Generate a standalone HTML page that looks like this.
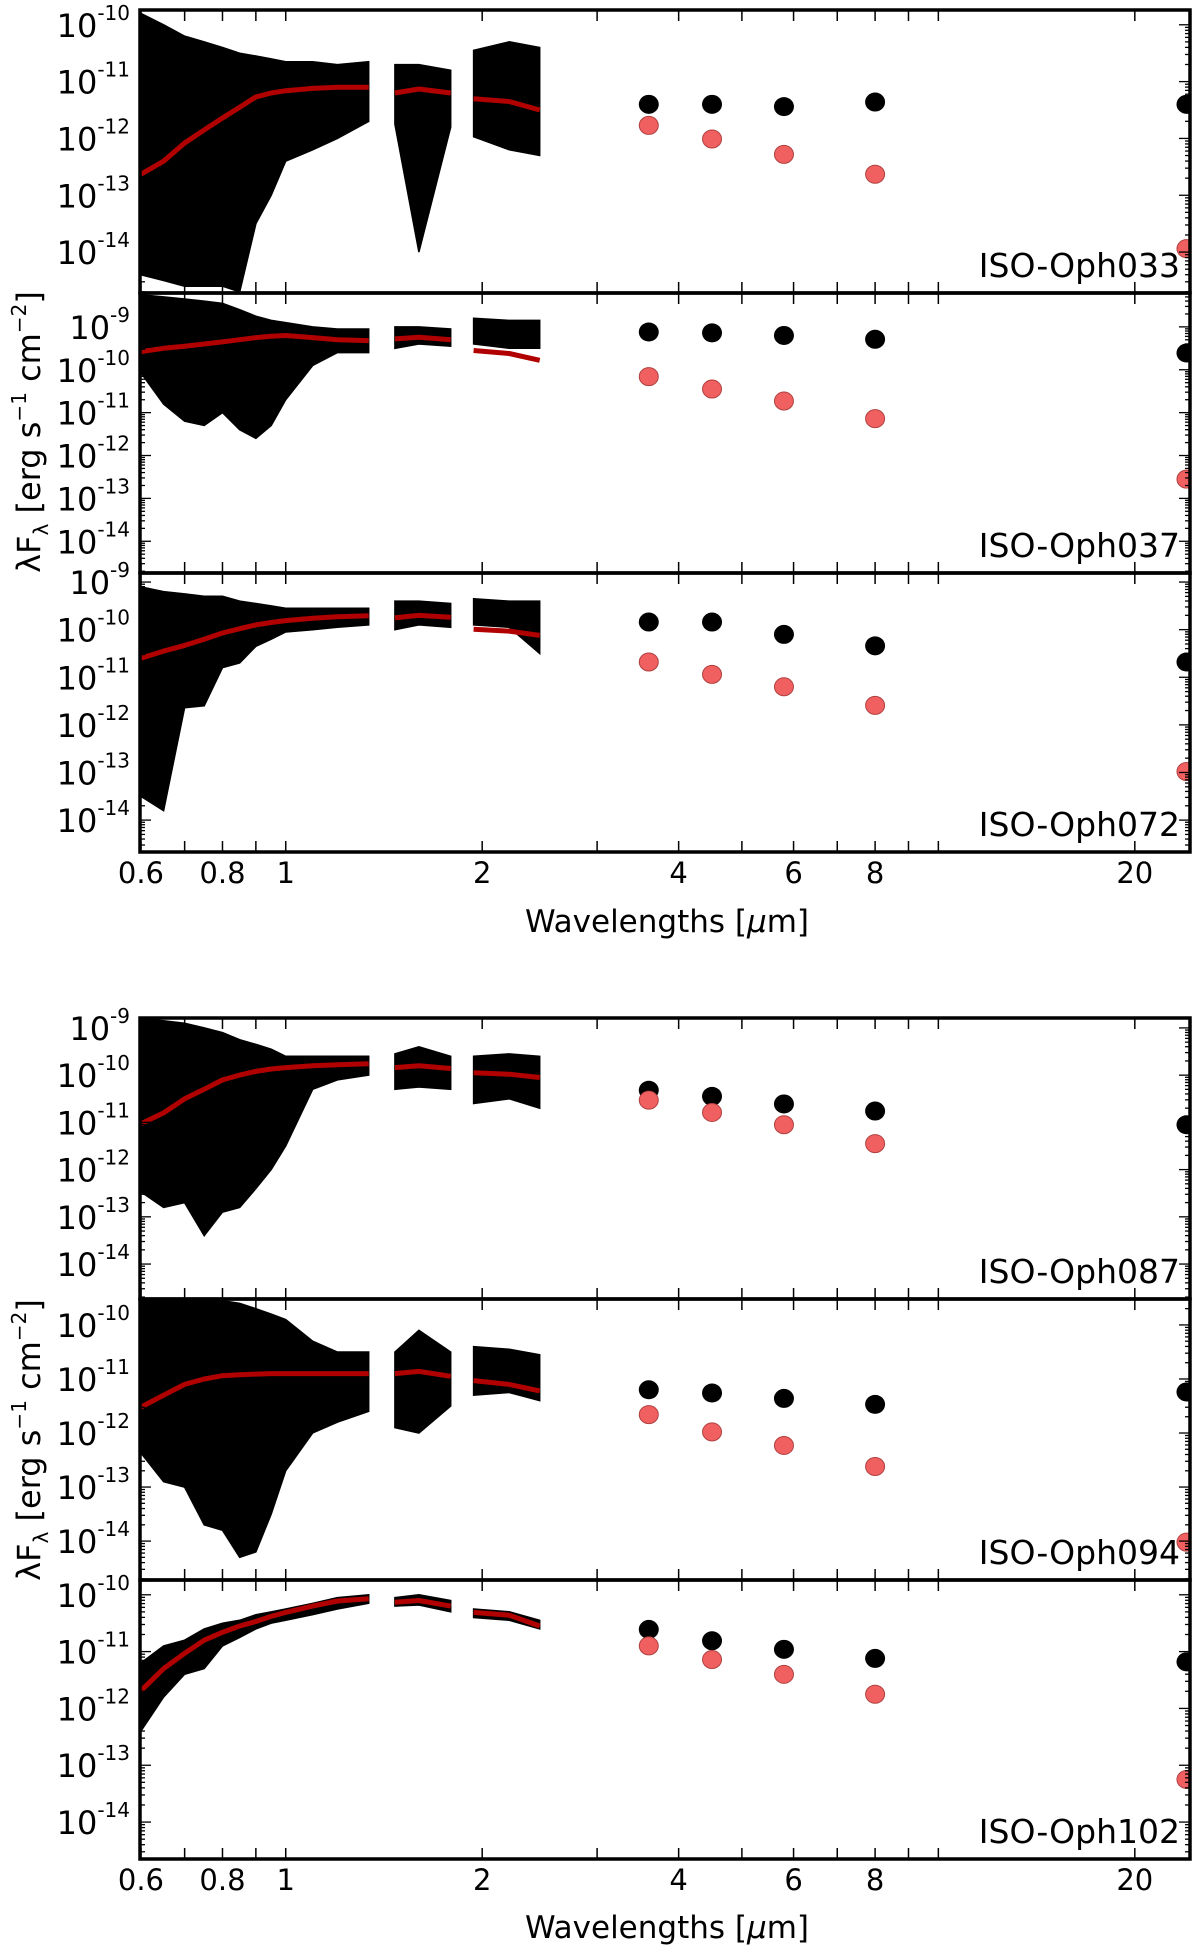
<!DOCTYPE html>
<html><head><meta charset="utf-8"><style>
body{margin:0;background:#fff}
svg{display:block}
text{font-family:"DejaVu Sans","Liberation Sans",sans-serif;fill:#000}
</style></head><body>
<svg id="fig" width="1200" height="1946" viewBox="0 0 1200 1946" xmlns="http://www.w3.org/2000/svg"></svg>
<script>
// ---- data ----
const panelNames = ["ISO-Oph033","ISO-Oph037","ISO-Oph072","ISO-Oph087","ISO-Oph094","ISO-Oph102"];
const photX = [3.6, 4.5, 5.8, 8.0, 24];
const photObs = [
 [-11.40,-11.40,-11.44,-11.36,-11.40],
 [-9.12,-9.14,-9.20,-9.29,-9.61],
 [-9.84,-9.84,-10.10,-10.34,-10.68],
 [-10.32,-10.45,-10.61,-10.76,-11.05],
 [-11.20,-11.26,-11.36,-11.47,-11.24],
 [-10.61,-10.81,-10.96,-11.12,-11.18]];
const photPhot = [
 [-11.77,-12.01,-12.28,-12.63,-13.94],
 [-10.16,-10.45,-10.73,-11.14,-12.55],
 [-10.68,-10.94,-11.20,-11.59,-12.98],
 [-10.53,-10.79,-11.05,-11.45,null],
 [-11.66,-11.98,-12.23,-12.62,-14.02],
 [-10.90,-11.14,-11.40,-11.75,-13.25]];
const specX1 = [0.6,0.65,0.7,0.75,0.8,0.85,0.9,0.95,1.0,1.1,1.2,1.34];
const specX2 = [1.47,1.6,1.79];
const specX3 = [1.94,2.2,2.45];
const modelLog = [
 [[-12.63,-12.4,-12.08,-11.85,-11.64,-11.45,-11.27,-11.2,-11.16,-11.12,-11.1,-11.1],[-11.2,-11.13,-11.2],[-11.3,-11.35,-11.5]],
 [[-9.58,-9.5,-9.45,-9.4,-9.35,-9.3,-9.25,-9.22,-9.2,-9.25,-9.3,-9.32],[-9.28,-9.24,-9.3],[-9.55,-9.62,-9.78]],
 [[-10.6,-10.45,-10.33,-10.2,-10.07,-9.98,-9.9,-9.85,-9.81,-9.76,-9.73,-9.71],[-9.75,-9.7,-9.74],[-9.99,-10.03,-10.12]],
 [[-11.03,-10.8,-10.5,-10.3,-10.1,-10.0,-9.92,-9.87,-9.84,-9.8,-9.78,-9.76],[-9.84,-9.8,-9.86],[-9.95,-9.98,-10.05]],
 [[-11.52,-11.3,-11.1,-11.0,-10.94,-10.92,-10.91,-10.9,-10.9,-10.9,-10.9,-10.9],[-10.9,-10.86,-10.95],[-11.03,-11.1,-11.22]],
 [[-11.69,-11.3,-11.03,-10.8,-10.66,-10.55,-10.47,-10.38,-10.31,-10.2,-10.11,-10.07],[-10.13,-10.1,-10.2],[-10.31,-10.36,-10.55]]];
const obsHi = [
 [[-9.8,-10.0,-10.2,-10.3,-10.4,-10.5,-10.55,-10.6,-10.65,-10.65,-10.7,-10.65],[-10.7,-10.7,-10.8],[-10.45,-10.3,-10.4]],
 [[-8.25,-8.3,-8.35,-8.4,-8.45,-8.6,-8.75,-8.85,-8.9,-9.0,-9.05,-9.05],[-9.0,-9.0,-9.05],[-8.8,-8.85,-8.85]],
 [[-9.1,-9.2,-9.25,-9.3,-9.3,-9.4,-9.45,-9.5,-9.55,-9.55,-9.55,-9.55],[-9.4,-9.4,-9.45],[-9.35,-9.4,-9.4]],
 [[-8.8,-8.85,-8.9,-9.0,-9.1,-9.25,-9.35,-9.45,-9.6,-9.6,-9.6,-9.6],[-9.55,-9.4,-9.6],[-9.6,-9.55,-9.6]],
 [[-9.5,-9.5,-9.52,-9.55,-9.55,-9.6,-9.7,-9.8,-9.9,-10.3,-10.5,-10.5],[-10.5,-10.1,-10.5],[-10.4,-10.45,-10.55]],
 [[-11.2,-10.9,-10.8,-10.6,-10.5,-10.45,-10.35,-10.3,-10.25,-10.15,-10.05,-10.0],[-10.05,-10.0,-10.1],[-10.25,-10.3,-10.45]]];
const obsLo = [
 [[-14.4,-14.5,-14.6,-14.6,-14.6,-14.7,-13.5,-13.0,-12.4,-12.2,-12.0,-11.7],[-11.75,-14.0,-11.8],[-11.97,-12.2,-12.3]],
 [[-10.07,-10.8,-11.2,-11.3,-11.0,-11.4,-11.6,-11.3,-10.7,-9.9,-9.6,-9.6],[-9.5,-9.4,-9.45],[-9.4,-9.5,-9.5]],
 [[-13.5,-13.8,-11.64,-11.6,-10.8,-10.7,-10.35,-10.2,-10.05,-10.0,-9.95,-9.9],[-10.0,-9.9,-9.95],[-9.9,-9.95,-10.5]],
 [[-12.47,-12.8,-12.7,-13.4,-12.9,-12.8,-12.4,-12.0,-11.5,-10.3,-10.1,-10.0],[-10.3,-10.25,-10.3],[-10.6,-10.5,-10.7]],
 [[-12.37,-12.9,-13.0,-13.7,-13.8,-14.3,-14.2,-13.5,-12.7,-12.0,-11.8,-11.6],[-11.9,-12.0,-11.5],[-11.3,-11.25,-11.4]],
 [[-12.4,-11.8,-11.4,-11.3,-10.9,-10.75,-10.6,-10.5,-10.45,-10.35,-10.25,-10.15],[-10.2,-10.18,-10.3],[-10.4,-10.45,-10.6]]];
const yLims = [[-14.72,-9.74],[-14.74,-8.21],[-14.67,-8.81],[-14.74,-8.79],[-14.72,-9.52],[-14.65,-9.74]];
const yTickExps = [[-14,-13,-12,-11,-10],[-14,-13,-12,-11,-10,-9],[-14,-13,-12,-11,-10,-9],[-14,-13,-12,-11,-10,-9],[-14,-13,-12,-11,-10],[-14,-13,-12,-11,-10]];
const xTickVals = [0.6,0.7,0.8,0.9,1,2,3,4,5,6,7,8,9,10,20];
const xTickLabels = {"0.6":"0.6","0.8":"0.8","1":"1","2":"2","4":"4","6":"6","8":"8","20":"20"};
const xLim = [0.598, 24.3];

// ---- layout ----
const NS="http://www.w3.org/2000/svg";
const svg=document.getElementById('fig');
const L=140,R=1190;
const panelTops=[10,293,573,1018,1299,1580];
const panelBots=[293,573,852,1299,1580,1859];
function mk(tag,attrs,parent){const e=document.createElementNS(NS,tag);for(const k in attrs)e.setAttribute(k,attrs[k]);(parent||svg).appendChild(e);return e;}
function xs(v){return L+(Math.log10(v)-Math.log10(xLim[0]))/(Math.log10(xLim[1])-Math.log10(xLim[0]))*(R-L);}
function ysF(i){const t=panelTops[i],b=panelBots[i],lo=yLims[i][0],hi=yLims[i][1];return v=>b-(v-lo)/(hi-lo)*(b-t);}

panelNames.forEach((name,i)=>{
  const g=mk('g',{});
  
  
  const t=panelTops[i],b=panelBots[i],ys=ysF(i);
  const clipId='clip'+i;
  const cp=mk('clipPath',{id:clipId},g);mk('rect',{x:L,y:t,width:R-L,height:b-t},cp);
  const plot=mk('g',{'clip-path':'url(#'+clipId+')'},g);
  // spectra
  [specX1,specX2,specX3].forEach((sx,s)=>{
    const hi=obsHi[i][s],lo=obsLo[i][s],md=modelLog[i][s];
    let pts=sx.map((x,k)=>xs(x).toFixed(1)+','+ys(hi[k]).toFixed(1));
    for(let k=sx.length-1;k>=0;k--)pts.push(xs(sx[k]).toFixed(1)+','+ys(lo[k]).toFixed(1));
    const band=mk('polygon',{points:pts.join(' '),fill:'#000',stroke:'#000','stroke-width':1.5},plot);
    
    
    const ln=mk('polyline',{points:sx.map((x,k)=>xs(x).toFixed(1)+','+ys(md[k]).toFixed(1)).join(' '),fill:'none',stroke:'#b00000','stroke-width':5,'stroke-linejoin':'round'},plot);
    
    
  });
  // photometry
  photX.forEach((x,k)=>{
    const o=photObs[i][k];
    if(o!==null){const c=mk('ellipse',{cx:xs(x),cy:ys(o),rx:10,ry:9.5,fill:'#000'},plot);
      
      }
    const p=photPhot[i][k];
    if(p!==null){const c=mk('ellipse',{cx:xs(x),cy:ys(p),rx:9.5,ry:9,fill:'#f06060',stroke:'#b04040','stroke-width':1},plot);
      
      }
  });
  // x ticks
  xTickVals.forEach(v=>{const X=xs(v);
    mk('line',{x1:X,x2:X,y1:t,y2:t+11,stroke:'#000','stroke-width':1.5},g);
    mk('line',{x1:X,x2:X,y1:b,y2:b-11,stroke:'#000','stroke-width':1.5},g);});
  // y ticks
  for(let e=Math.floor(yLims[i][0]);e<=Math.ceil(yLims[i][1]);e++){
    for(let m=1;m<10;m++){const v=e+Math.log10(m);
      if(v<yLims[i][0]||v>yLims[i][1])continue;const Y=ys(v);const len=m===1?11:5;
      mk('line',{x1:L,x2:L+len,y1:Y,y2:Y,stroke:'#000','stroke-width':1.3},g);
      mk('line',{x1:R,x2:R-len,y1:Y,y2:Y,stroke:'#000','stroke-width':1.3},g);}
  }
  yTickExps[i].forEach(e=>{const Y=ys(e);
    const tx=mk('text',{x:130,y:Y+12,'text-anchor':'end','font-size':32},g);
    
    
    tx.appendChild(document.createTextNode('10'));
    const sp=mk('tspan',{dy:-17,'font-size':20},tx);sp.textContent=String(e);});
  const fr=mk('rect',{x:L,y:t,width:R-L,height:b-t,fill:'none',stroke:'#000','stroke-width':3.5},g);
  
  
  const nm=mk('text',{x:1180,y:b-16,'text-anchor':'end','font-size':33},g);
  
  
  nm.textContent=name;
});
// x tick labels and axis titles for both groups
[[852,883,932],[1859,1890,1938]].forEach(([bot,ly,ty])=>{
  for(const k in xTickLabels){const tx=mk('text',{x:xs(parseFloat(k)),y:ly,'text-anchor':'middle','font-size':29});
    
    
    tx.textContent=xTickLabels[k];}
  const xt=mk('text',{x:667,y:ty,'text-anchor':'middle','font-size':31});
  
  
  xt.innerHTML='Wavelengths [<tspan font-style="italic">μ</tspan>m]';
});
[432,1440].forEach(cy=>{
  const yt=mk('text',{x:0,y:0,'text-anchor':'middle','font-size':32,transform:'translate(40,'+cy+') rotate(-90)'});
  
  
  yt.innerHTML='λF<tspan font-size="20" dy="8">λ</tspan><tspan dy="-8"> [erg s</tspan><tspan font-size="20" dy="-14">−1</tspan><tspan dy="14"> cm</tspan><tspan font-size="20" dy="-14">−2</tspan><tspan dy="14">]</tspan>';
});
</script>
</body></html>
